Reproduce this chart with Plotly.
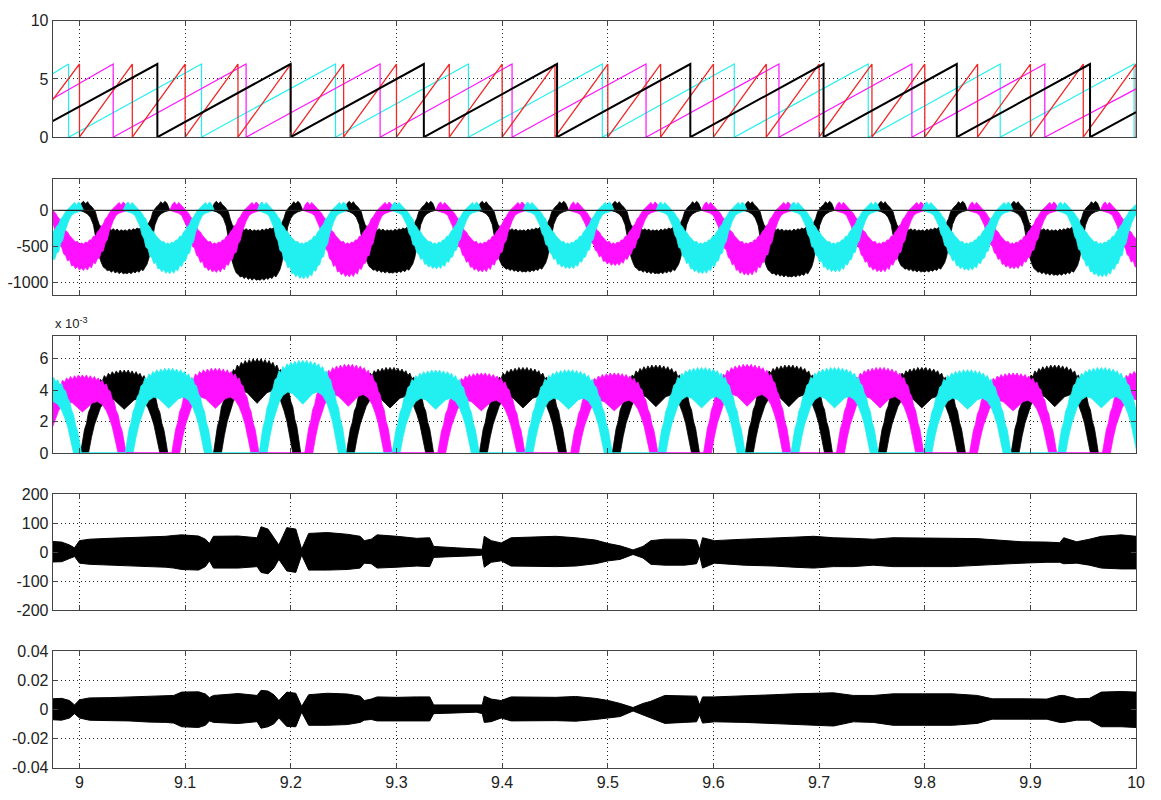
import plotly.graph_objects as go

T0, T1 = 8.9746, 10.0
TWO_PI = 6.2832

# ---------------- Panel 1 : sawtooth angles ----------------
black_resets = [9.0737, 9.1998, 9.3259, 9.4520, 9.5781, 9.7042, 9.8303, 9.9564]
black_start, black_end = 1.37, 2.15
magenta_resets = [9.0319, 9.1577, 9.2845, 9.4094, 9.5362, 9.6620, 9.7878, 9.9136]
magenta_start, magenta_end = 3.3, 4.15
cyan_resets = [8.9897, 9.1155, 9.2423, 9.3681, 9.4948, 9.6197, 9.7465, 9.8714, 9.9981]
cyan_start, cyan_end = 5.45, 0.0
red_resets = [9.00, 9.05, 9.10, 9.15, 9.20, 9.25, 9.30, 9.35, 9.40, 9.45, 9.50,
              9.55, 9.60, 9.65, 9.70, 9.75, 9.80, 9.85, 9.90, 9.95, 10.00]
red_start, red_end = 3.2, 0.0

# ---------------- Panel 2 / 3 : three-phase lobes ----------------
mag_centers = [9.0028, 9.1286, 9.2545, 9.3803, 9.5061, 9.6319, 9.7577, 9.8836, 10.0094]
blk_centers = [8.9164, 9.0423, 9.1681, 9.2939, 9.4197, 9.5455, 9.6714, 9.7972, 9.9230]
cyn_centers = [8.9606, 9.0845, 9.2113, 9.3371, 9.4629, 9.5887, 9.7146, 9.8404, 9.9671]

# panel 2 lobe depths (lower envelope minimum)
mag_depth = [-833, -860, -923, -855, -766, -900, -855, -811, -850]
blk_depth = [-850, -878, -968, -870, -855, -878, -923, -855, -900]
cyn_depth = [-850, -878, -950, -811, -811, -878, -855, -833, -923]

# panel 2 lobe outline read from single lobes (offsets from lobe centre, ms)
lobe_up_ms = [-43.2, -40.4, -38.5, -36.6, -34.7, -32.9, -30.0, -27.2, -25.4, -23.5, -21.6,
              -19.7, -17.8, -16.0, -14.1, -12.2, -10.3, -8.5, -6.6, -4.7, -2.8, -0.9,
              0.9, 2.8, 4.7, 6.6, 8.5, 10.3, 12.2, 14.1, 16.0, 17.8, 19.7,
              21.6, 23.5, 25.4, 27.2, 30.0, 32.9, 34.7, 36.6, 38.5, 40.4, 43.2]
col_lobe_up = [0, 90, 115, 70, 110, 80, 40, 0, -40, -90,
               -120, -200, -230, -280, -300, -350, -380, -400, -440, -430,
               -470, -450, -470, -440, -450, -410, -410, -360, -360, -300,
               -270, -220, -190, -120, -90, -40, 0, 40, 80, 110,
               70, 115, 90, 0]
blk_lobe_up = [0, 100, 125, 90, 120, 80, 40, -20, -120, -200,
               -230, -260, -240, -270, -250, -275, -255, -280, -260, -290,
               -270, -285, -270, -290, -260, -280, -255, -270, -245, -260,
               -235, -250, -220, -200, -170, -110, -20, 40, 80, 120,
               90, 125, 100, 0]
lobe_lo_ms = [43.2, 38.5, 34.7, 31.9, 29.1, 27.2, 25.4, 23.5, 21.6, 19.7,
              17.8, 16.0, 14.1, 12.2, 10.3, 8.5, 6.6, 4.7, 2.8, 0.9,
              -0.9, -2.8, -4.7, -6.6, -8.5, -10.3, -12.2, -14.1, -16.0, -17.8,
              -19.7, -21.6, -23.5, -25.4, -27.2, -29.1, -31.9, -34.7, -38.5, -43.2]
col_lobe_lo = [0, -20, -40, -70, -150, -230, -300, -420, -460, -580,
               -590, -680, -690, -760, -740, -820, -790, -850, -810, -855,
               -820, -850, -800, -830, -780, -790, -700, -720, -640, -620,
               -520, -500, -380, -330, -220, -160, -70, -40, -20, 0]
blk_lobe_lo = [0, -20, -50, -100, -200, -350, -520, -650, -740, -790,
               -830, -810, -850, -830, -860, -840, -870, -850, -870, -860,
               -870, -845, -870, -840, -860, -825, -850, -820, -830, -800,
               -780, -720, -640, -500, -340, -200, -100, -50, -20, 0]

# panel 3 arch peaks (x 1e-3)
mag_peak = [4.97, 5.4, 5.65, 5.1, 5.1, 5.65, 5.45, 5.1, 5.3]
blk_peak = [4.8, 5.28, 6.0, 5.45, 5.45, 5.6, 5.6, 5.45, 5.6]
cyn_peak = [5.0, 5.4, 5.9, 5.28, 5.3, 5.45, 5.45, 5.3, 5.45]

arch_out_ms = [-41.3, -39.4, -37.6, -35.7, -33.8, -31.9, -30.0, -28.2, -26.3, -24.4,
               -22.5, -20.7, -18.8, -16.9, -15.0, -13.1, -11.3, -9.4, -7.5, -5.6,
               -3.8, -1.9, 0.0, 1.9, 3.8, 5.6, 7.5, 9.4, 11.3, 13.1,
               15.0, 16.9, 18.8, 20.7, 22.5, 24.4, 26.3, 28.2, 30.0, 31.9,
               33.8, 35.7, 37.6, 39.4, 41.3]
arch_out = [0, 0.8, 1.5, 1.9, 2.6, 2.9, 3.5, 3.7, 4.2, 4.3,
            4.7, 4.6, 4.95, 4.8, 5.1, 4.95, 5.2, 5.0, 5.25, 5.05,
            5.3, 5.1, 5.3, 5.1, 5.3, 5.05, 5.25, 5.0, 5.2, 4.95,
            5.1, 4.8, 4.95, 4.6, 4.7, 4.3, 4.2, 3.7, 3.5, 2.9,
            2.6, 1.9, 1.5, 0.8, 0]
arch_in_ms = [33.8, 31.0, 28.2, 25.4, 22.5, 18.8, 14.1, 9.4, 4.7, 0.0,
              -4.7, -9.4, -14.1, -18.8, -22.5, -25.4, -28.2, -31.0, -33.8]
arch_in = [0, 1.0, 1.8, 2.4, 2.9, 3.3, 3.5, 3.4, 3.1, 2.8,
           3.1, 3.4, 3.5, 3.3, 2.9, 2.4, 1.8, 1.0, 0]

# ---------------- Panel 4 / 5 : envelopes ----------------
env_t = [8.9746, 8.9831, 8.9906, 8.9953, 9.0000, 9.0094, 9.0282, 9.0469, 9.0657, 9.0817,
         9.0892, 9.0967, 9.1127, 9.1192, 9.1230, 9.1268, 9.1502, 9.1681, 9.1718, 9.1784,
         9.1840, 9.1887, 9.1962, 9.2047, 9.2103, 9.2169, 9.2347, 9.2535, 9.2657, 9.2695,
         9.2761, 9.2817, 9.3005, 9.3192, 9.3315, 9.3352, 9.3568, 9.3756, 9.3812, 9.3831,
         9.3897, 9.3991, 9.4085, 9.4507, 9.4695, 9.4883, 9.5005, 9.5117, 9.5239, 9.5333,
         9.5408, 9.5540, 9.5728, 9.5840, 9.5869, 9.5897, 9.6009, 9.6291, 9.6573, 9.6761,
         9.6948, 9.7136, 9.7324, 9.7512, 9.7700, 9.7981, 9.8263, 9.8498, 9.8638, 9.8920,
         9.9155, 9.9277, 9.9315, 9.9437, 9.9559, 9.9671, 9.9859, 10.0000]
p4_up = [37, 35, 25, 15, 40, 45, 48, 50, 52, 55,
         58, 60, 56, 45, 30, 55, 56, 50, 88, 80,
         50, 25, 85, 80, 10, 65, 68, 62, 55, 40,
         45, 60, 55, 48, 50, 20, 15, 12, 10, 55,
         40, 32, 50, 55, 50, 42, 30, 22, 8, 20,
         40, 45, 45, 42, 10, 50, 40, 45, 48, 52,
         55, 50, 48, 45, 50, 50, 48, 47, 43, 36,
         35, 33, 50, 36, 45, 55, 60, 55]
p4_lo = [-34, -33, -22, -15, -38, -42, -45, -48, -50, -52,
         -55, -60, -62, -50, -30, -55, -55, -50, -70, -75,
         -55, -25, -65, -70, -10, -62, -62, -60, -55, -38,
         -40, -55, -52, -48, -50, -18, -15, -12, -10, -52,
         -35, -30, -48, -50, -48, -40, -30, -25, -8, -20,
         -42, -45, -45, -40, -12, -55, -38, -45, -48, -52,
         -55, -50, -50, -45, -50, -50, -50, -48, -43, -38,
         -35, -35, -40, -38, -45, -55, -58, -58]
p5_up = [0.0072, 0.0075, 0.0060, 0.0030, 0.0065, 0.0078, 0.0080, 0.0084, 0.0090, 0.0092,
         0.0095, 0.0118, 0.0120, 0.0105, 0.0080, 0.0095, 0.0108, 0.0095, 0.0130, 0.0125,
         0.0100, 0.0060, 0.0118, 0.0110, 0.0020, 0.0100, 0.0110, 0.0105, 0.0090, 0.0060,
         0.0070, 0.0085, 0.0082, 0.0085, 0.0085, 0.0030, 0.0028, 0.0030, 0.0030, 0.0090,
         0.0070, 0.0060, 0.0085, 0.0082, 0.0088, 0.0075, 0.0060, 0.0040, 0.0012, 0.0040,
         0.0055, 0.0095, 0.0095, 0.0090, 0.0030, 0.0085, 0.0085, 0.0095, 0.0100, 0.0106,
         0.0110, 0.0113, 0.0095, 0.0095, 0.0106, 0.0106, 0.0106, 0.0095, 0.0072, 0.0072,
         0.0070, 0.0095, 0.0095, 0.0072, 0.0075, 0.0118, 0.0122, 0.0118]
p5_lo = [-0.0072, -0.0075, -0.0060, -0.0030, -0.0060, -0.0075, -0.0078, -0.0080, -0.0088, -0.0090,
         -0.0095, -0.0120, -0.0125, -0.0110, -0.0080, -0.0090, -0.0098, -0.0085, -0.0130, -0.0120,
         -0.0100, -0.0060, -0.0118, -0.0120, -0.0020, -0.0110, -0.0110, -0.0105, -0.0090, -0.0075,
         -0.0070, -0.0080, -0.0075, -0.0080, -0.0080, -0.0030, -0.0025, -0.0020, -0.0030, -0.0090,
         -0.0085, -0.0060, -0.0080, -0.0078, -0.0082, -0.0070, -0.0060, -0.0050, -0.0012, -0.0040,
         -0.0060, -0.0097, -0.0090, -0.0086, -0.0040, -0.0095, -0.0086, -0.0090, -0.0095, -0.0105,
         -0.0110, -0.0115, -0.0086, -0.0090, -0.0110, -0.0110, -0.0110, -0.0097, -0.0068, -0.0068,
         -0.0068, -0.0090, -0.0090, -0.0075, -0.0075, -0.0120, -0.0120, -0.0125]

x_ticks = [9.0, 9.1, 9.2, 9.3, 9.4, 9.5, 9.6, 9.7, 9.8, 9.9, 10.0]
x_ticktext = ['9', '9.1', '9.2', '9.3', '9.4', '9.5', '9.6', '9.7', '9.8', '9.9', '10']

BLACK = '#000000'
MAGENTA = '#ff10ff'
CYAN = '#22f0f0'
RED = '#f02828'


def saw(resets, start, end):
    xs, ys = [T0], [start]
    for r in resets:
        xs += [r, r]
        ys += [TWO_PI, 0.0]
    xs.append(T1)
    ys.append(end)
    return xs, ys


def polys(centers, scales, off_a, val_a, off_b, val_b, ref, scale_a=False):
    xs, ys = [], []
    for c, s in zip(centers, scales):
        k = s / ref
        xs += [c + o / 1000.0 for o in off_a] + [c + o / 1000.0 for o in off_b] + [None]
        ys += [v * k if scale_a else v for v in val_a] + [v * k for v in val_b] + [None]
    return xs, ys


fig = go.Figure()

# Panel 1
for resets, st, en, col, w in [(cyan_resets, cyan_start, cyan_end, CYAN, 1.2),
                               (magenta_resets, magenta_start, magenta_end, MAGENTA, 1.2),
                               (red_resets, red_start, red_end, RED, 1.3),
                               (black_resets, black_start, black_end, BLACK, 2.0)]:
    xs, ys = saw(resets, st, en)
    fig.add_trace(go.Scatter(x=xs, y=ys, mode='lines', line=dict(color=col, width=w),
                             xaxis='x', yaxis='y', hoverinfo='skip'))

# Panel 2
for cen, dep, up, lo, col in [(blk_centers, blk_depth, blk_lobe_up, blk_lobe_lo, BLACK),
                              (mag_centers, mag_depth, col_lobe_up, col_lobe_lo, MAGENTA),
                              (cyn_centers, cyn_depth, col_lobe_up, col_lobe_lo, CYAN)]:
    xs, ys = polys(cen, dep, lobe_up_ms, up, lobe_lo_ms, lo, min(lo))
    fig.add_trace(go.Scatter(x=xs, y=ys, mode='lines', fill='toself', fillcolor=col,
                             line=dict(color=col, width=0.8), xaxis='x2', yaxis='y2',
                             hoverinfo='skip'))
fig.add_trace(go.Scatter(x=[T0, T1], y=[0, 0], mode='lines', line=dict(color='#222222', width=1.2),
                         xaxis='x2', yaxis='y2', hoverinfo='skip'))

# Panel 3
for cen, pk, col in [(blk_centers, blk_peak, BLACK), (mag_centers, mag_peak, MAGENTA),
                     (cyn_centers, cyn_peak, CYAN)]:
    xs, ys = polys(cen, pk, arch_out_ms, arch_out, arch_in_ms, arch_in, max(arch_out),
                   scale_a=True)
    fig.add_trace(go.Scatter(x=xs, y=ys, mode='lines', fill='toself', fillcolor=col,
                             line=dict(color=col, width=0.8), xaxis='x3', yaxis='y3',
                             hoverinfo='skip'))
for cen, col in [(mag_centers, MAGENTA), (cyn_centers, CYAN)]:
    xs, ys = [], []
    for a, b in zip(cen[:-1], cen[1:]):
        xs += [a + arch_out_ms[-1] / 1000.0, b + arch_out_ms[0] / 1000.0, None]
        ys += [0, 0, None]
    fig.add_trace(go.Scatter(x=xs, y=ys, mode='lines', line=dict(color=col, width=2),
                             xaxis='x3', yaxis='y3', hoverinfo='skip'))

# Panels 4 and 5
for up, lo, ax in [(p4_up, p4_lo, '4'), (p5_up, p5_lo, '5')]:
    fig.add_trace(go.Scatter(x=env_t + env_t[::-1], y=up + lo[::-1], mode='lines',
                             fill='toself', fillcolor=BLACK, line=dict(color=BLACK, width=1),
                             xaxis='x' + ax, yaxis='y' + ax, hoverinfo='skip'))

domains = [(0.835, 0.98375), (0.63375, 0.78125), (0.43125, 0.58125),
           (0.23125, 0.37875), (0.03, 0.17875)]
yranges = [[0, 10], [-1170, 430], [0, 7.45], [-200, 200], [-0.04, 0.04]]
yticks = [([0, 5, 10], ['0', '5', '10']),
          ([-1000, -500, 0], ['-1000', '-500', '0']),
          ([0, 2, 4, 6], ['0', '2', '4', '6']),
          ([-200, -100, 0, 100, 200], ['-200', '-100', '0', '100', '200']),
          ([-0.04, -0.02, 0, 0.02, 0.04], ['-0.04', '-0.02', '0', '0.02', '0.04'])]

font = dict(family='Liberation Sans, Arial, sans-serif', size=16, color='#222222')
layout = dict(width=1161, height=800, margin=dict(l=0, r=0, t=0, b=0),
              paper_bgcolor='white', plot_bgcolor='white', showlegend=False, font=font)
common = dict(showline=True, linecolor='#444444', linewidth=1, mirror='ticks', ticks='inside',
              ticklen=5, tickcolor='#444444', showgrid=True, gridcolor='#222222',
              gridwidth=1, griddash='1px,3px', zeroline=False, tickfont=font)
for i in range(5):
    n = '' if i == 0 else str(i + 1)
    layout['xaxis' + n] = dict(common, domain=[0.0457, 0.9862], range=[T0, T1],
                               anchor='y' + n, tickmode='array', tickvals=x_ticks,
                               ticktext=x_ticktext, showticklabels=(i == 4))
    layout['yaxis' + n] = dict(common, domain=list(domains[i]), range=yranges[i],
                               anchor='x' + n, tickmode='array', tickvals=yticks[i][0],
                               ticktext=yticks[i][1])
fig.update_layout(**layout)
fig.add_annotation(x=53 / 1161, y=(800 - 322) / 800, xref='paper', yref='paper',
                   text='x 10<sup>-3</sup>', showarrow=False, xanchor='left', yanchor='middle',
                   font=dict(family='Liberation Sans, Arial, sans-serif', size=13, color='#222'))

fig.write_html('out.html')
